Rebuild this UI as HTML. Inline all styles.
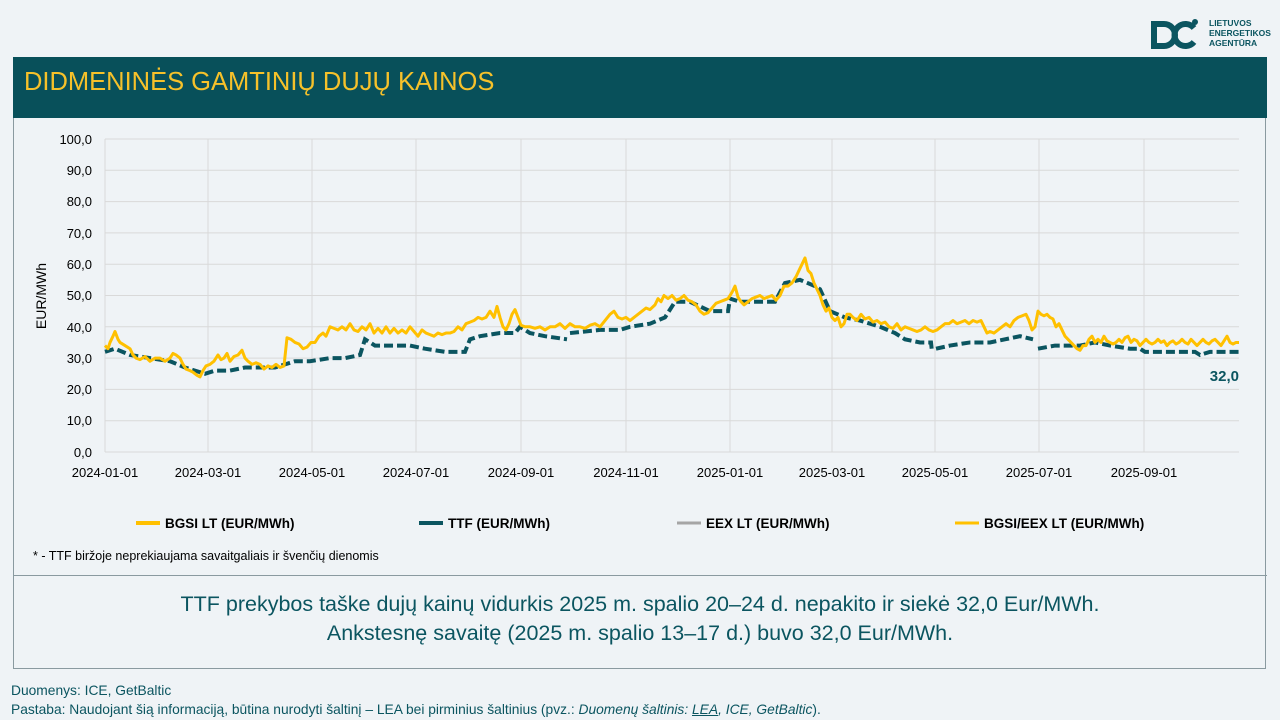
<!DOCTYPE html>
<html><head><meta charset="utf-8"><style>
body{margin:0;width:1280px;height:720px;background:#eff3f6;font-family:"Liberation Sans",sans-serif;position:relative;overflow:hidden}
.abs{position:absolute}
</style></head><body>
<div class="abs" style="left:13px;top:57px;width:1253px;height:612px;border:1px solid #8a9aa0;box-sizing:border-box"></div>
<div class="abs" style="left:13px;top:57px;width:1254px;height:61px;background:#08505a"></div>
<div class="abs" style="left:24px;top:68px;font-size:25.5px;color:#f6c12a">DIDMENINĖS GAMTINIŲ DUJŲ KAINOS</div>
<div class="abs" style="left:13px;top:575px;width:1254px;height:1px;background:#8a9aa0"></div>
<div class="abs" style="left:13px;top:590px;width:1254px;text-align:center;font-size:21.5px;line-height:29px;color:#0b5560">TTF prekybos taške dujų kainų vidurkis 2025 m. spalio 20–24 d. nepakito ir siekė 32,0 Eur/MWh.<br>Ankstesnę savaitę (2025 m. spalio 13–17 d.) buvo 32,0 Eur/MWh.</div>
<div class="abs" style="left:11px;top:681px;font-size:13.8px;line-height:19px;color:#0b5560">Duomenys: ICE, GetBaltic<br>Pastaba: Naudojant šią informaciją, būtina nurodyti šaltinį – LEA bei pirminius šaltinius (pvz.: <i>Duomenų šaltinis: <u>LEA</u>, ICE, GetBaltic</i>).</div>
<svg class="abs" style="left:1150px;top:18px" width="50" height="32"><path d="M4 6 h10 a11 11 0 0 1 0 22 h-10 z" fill="none" stroke="#0b5560" stroke-width="6"/><path d="M44 10 a11 11 0 1 0 0 14" fill="none" stroke="#0b5560" stroke-width="6"/><circle cx="45" cy="4" r="3" fill="#0b5560"/></svg>
<div class="abs" style="left:1209px;top:18px;font-size:8.5px;font-weight:bold;line-height:10px;color:#0b5560">LIETUVOS<br>ENERGETIKOS<br>AGENTŪRA</div>
<svg class="abs" style="left:0;top:0" width="1280" height="720" font-family="Liberation Sans" font-size="13">
<g stroke="#d9d9d9" stroke-width="1">
<line x1="105" y1="139" x2="1239" y2="139"/><line x1="105" y1="170.3" x2="1239" y2="170.3"/><line x1="105" y1="201.6" x2="1239" y2="201.6"/><line x1="105" y1="232.9" x2="1239" y2="232.9"/><line x1="105" y1="264.2" x2="1239" y2="264.2"/><line x1="105" y1="295.5" x2="1239" y2="295.5"/><line x1="105" y1="326.8" x2="1239" y2="326.8"/><line x1="105" y1="358.1" x2="1239" y2="358.1"/><line x1="105" y1="389.4" x2="1239" y2="389.4"/><line x1="105" y1="420.7" x2="1239" y2="420.7"/><line x1="105" y1="452" x2="1239" y2="452"/>
<line x1="105" y1="139" x2="105" y2="452"/><line x1="208" y1="139" x2="208" y2="452"/><line x1="312" y1="139" x2="312" y2="452"/><line x1="416" y1="139" x2="416" y2="452"/><line x1="521" y1="139" x2="521" y2="452"/><line x1="626" y1="139" x2="626" y2="452"/><line x1="730" y1="139" x2="730" y2="452"/><line x1="832" y1="139" x2="832" y2="452"/><line x1="935" y1="139" x2="935" y2="452"/><line x1="1039" y1="139" x2="1039" y2="452"/><line x1="1144" y1="139" x2="1144" y2="452"/>
</g>
<g text-anchor="end" fill="#000">
<text x="92" y="144">100,0</text><text x="92" y="175">90,0</text><text x="92" y="206">80,0</text><text x="92" y="238">70,0</text><text x="92" y="269">60,0</text><text x="92" y="300">50,0</text><text x="92" y="332">40,0</text><text x="92" y="363">30,0</text><text x="92" y="394">20,0</text><text x="92" y="425">10,0</text><text x="92" y="457">0,0</text>
</g>
<g text-anchor="middle" fill="#000">
<text x="105" y="477">2024-01-01</text><text x="208" y="477">2024-03-01</text><text x="312" y="477">2024-05-01</text><text x="416" y="477">2024-07-01</text><text x="521" y="477">2024-09-01</text><text x="626" y="477">2024-11-01</text><text x="730" y="477">2025-01-01</text><text x="832" y="477">2025-03-01</text><text x="935" y="477">2025-05-01</text><text x="1039" y="477">2025-07-01</text><text x="1144" y="477">2025-09-01</text>
</g>
<text transform="translate(46,296) rotate(-90)" text-anchor="middle" font-size="14">EUR/MWh</text>
<g transform="translate(0,452) scale(1,-3.13)" fill="none">
<polyline vector-effect="non-scaling-stroke" stroke="#0b5560" stroke-width="4" stroke-dasharray="9,4" points="105,32 115,33 130,31 150,30 170,29 185,27 195,26 205,25 215,26 230,26 245,27 260,27 275,27 285,28 295,29 310,29 330,30 345,30 360,31 365,36 375,34 395,34 410,34 425,33 445,32 465,32 470,36 480,37 500,38 515,38 520,40 530,38 545,37 567,36"/>
<polyline vector-effect="non-scaling-stroke" stroke="#0b5560" stroke-width="4" stroke-dasharray="9,4" points="570,38 600,39 620,39 630,40 650,41 665,43 675,48 690,48 710,45 728,45 730,49 740,48 760,48 775,48 785,54 800,55 815,53 820,52 830,45 845,43 860,42 880,40 895,38 905,36 920,35 931,35 932,32"/>
<polyline vector-effect="non-scaling-stroke" stroke="#0b5560" stroke-width="4" stroke-dasharray="9,4" points="936,33 950,34 970,35 990,35 1005,36 1020,37 1033,36"/>
<polyline vector-effect="non-scaling-stroke" stroke="#0b5560" stroke-width="4" stroke-dasharray="9,4" points="1038,33 1055,34 1070,34 1080,34 1095,35 1110,34 1130,33 1140,33 1145,32 1170,32 1195,32 1200,31 1210,32 1239,32"/>
<polyline vector-effect="non-scaling-stroke" stroke="#ffc000" stroke-width="3" stroke-linejoin="round" points="105,34 108,33 110,35 113,37 115,38.5 118,36 120,35 125,34 130,33 133,31 136,30 140,29.5 145,30.5 150,29 155,30 160,30 165,29 170,30 173,31.5 176,31 180,30 183,28 186,26.5 190,26 193,25.5 197,24.5 200,24 203,26 206,27.5 210,28 214,29 218,31 221,29.5 224,30 227,31.5 230,29 234,30.5 238,31 242,32.5 245,30 248,29 252,28 256,28.5 260,28 264,26.5 268,27.5 272,27 276,28 280,27 284,27.5 287,36.5 291,36 295,35 299,34.5 303,33 307,33.5 311,35 315,35 319,37 323,38 326,37 330,40 334,39.5 338,39 342,40 346,39 350,41 354,39 358,38.5 362,40 366,39 370,41 374,38 378,39.5 382,38 386,40 390,38 394,39.5 398,38 402,39 406,38 410,40 414,38.5 418,37 422,39 426,38 430,37.5 434,37 438,38 442,37.5 446,38 450,38 454,38.5 458,40 462,39 466,41 470,41.5 474,42 478,43 482,42.5 486,43 490,45 494,43 497,46.5 500,43 503,40 506,39 509,41 512,44 515,45.5 518,43 521,40.5 525,40 530,40 535,39.5 540,40 545,39 550,40 555,40 560,41 565,39.5 570,41 575,40 580,40 585,39.5 590,40.5 595,41 600,40 605,42 610,44 614,45 618,43 622,42.5 626,43 630,42 634,43 638,44 642,45 646,46 650,45.5 655,47 658,49 661,48 664,50 668,49 672,50 676,48.5 680,49 684,50 688,48.5 692,48 696,47 700,45 704,44 708,44.5 712,46 716,47.5 720,48 724,48.5 728,49 732,51 735,53 738,49.5 741,48 744,47 748,48 752,49 756,49.5 760,50 764,49 768,49.5 772,50 776,48.5 780,50 784,53 788,53 792,54 796,56 799,58 802,60 805,62 808,58 811,57 814,54 817,52 820,50 823,47 826,45 829,46 832,43 835,42 838,43 841,40 844,41 847,44 850,44 853,43 857,42 861,44 865,42.5 869,43 873,41.5 877,42 881,41 885,41.5 889,40 893,39.5 897,41 901,39 905,40 909,39.5 913,39 917,38.5 921,39 925,40 929,39 933,38.5 937,39 941,40 945,41 949,41 953,42 957,41 961,41.5 965,42 969,41 973,42 977,41.5 981,42 984,40 987,38 990,38.5 994,38 998,39 1002,40 1006,41 1010,40 1014,42 1018,43 1022,43.5 1026,44 1029,42 1032,39 1035,40 1038,45 1041,44 1044,43.5 1047,44 1050,43 1053,42.5 1056,40 1059,41 1062,39 1065,37 1068,36 1071,35 1074,34 1077,33 1080,32.5 1083,34 1086,34 1089,36 1092,37 1095,35 1098,36 1101,35 1104,37 1107,35.5 1110,35 1113,34.5 1116,35 1119,36 1122,35 1125,36.5 1128,37 1131,35 1134,36 1137,35.5 1140,34 1143,35 1146,36 1149,35 1152,34.5 1155,35 1158,36 1161,35 1164,35.5 1167,34 1170,35 1173,35.5 1176,34.5 1179,35 1182,36 1185,35 1188,34.5 1191,36 1194,35 1197,34 1200,35 1203,36 1206,35 1209,34.5 1212,35.5 1215,36 1218,35 1221,34 1224,35.5 1227,37 1230,35 1233,34.5 1236,35 1239,35"/>
</g>
<text x="1239" y="381" text-anchor="end" font-size="15" font-weight="bold" fill="#0b5560">32,0</text>
<g font-size="13.5" font-weight="bold">
<line x1="136" y1="523" x2="160" y2="523" stroke="#ffc000" stroke-width="4"/>
<text x="165" y="528">BGSI LT (EUR/MWh)</text>
<line x1="419" y1="523" x2="443" y2="523" stroke="#0b5560" stroke-width="4"/>
<text x="448" y="528">TTF (EUR/MWh)</text>
<line x1="677" y1="523" x2="701" y2="523" stroke="#a5a5a5" stroke-width="3"/>
<text x="706" y="528">EEX LT (EUR/MWh)</text>
<line x1="955" y1="523" x2="979" y2="523" stroke="#ffc000" stroke-width="3"/>
<text x="984" y="528">BGSI/EEX LT (EUR/MWh)</text>
</g>
<text x="33" y="560" font-size="12.5">* - TTF biržoje neprekiaujama savaitgaliais ir švenčių dienomis</text>
</svg>
</body></html>
